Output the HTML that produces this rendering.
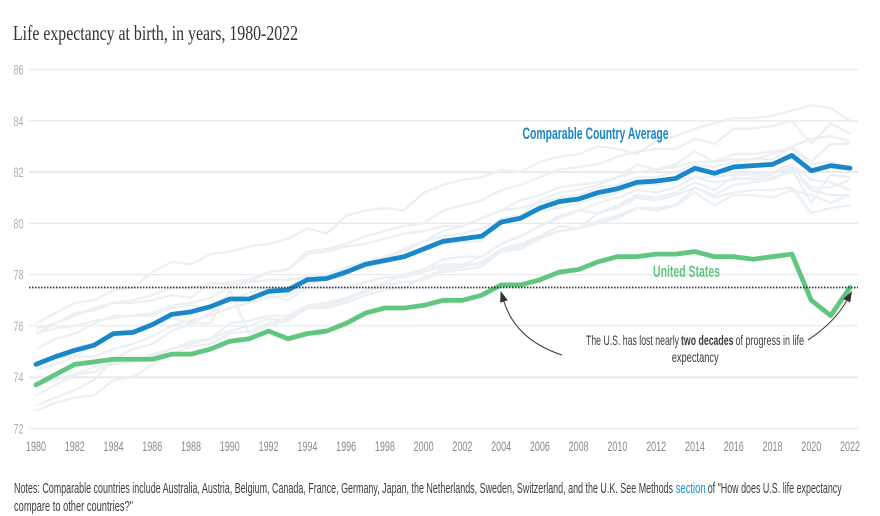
<!DOCTYPE html>
<html lang="en">
<head>
<meta charset="utf-8">
<title>Life expectancy at birth, in years, 1980-2022</title>
<style>
html,body{margin:0;padding:0;background:#fff;width:880px;height:516px;overflow:hidden}
svg{display:block}
text{font-family:"Liberation Sans",sans-serif}
</style>
</head>
<body>
<svg id="chart" xmlns="http://www.w3.org/2000/svg" width="880" height="516" viewBox="0 0 880 516">
  <rect x="0" y="0" width="880" height="516" fill="#ffffff"/>
  <text x="13" y="40" font-size="21" fill="#333333" style="font-family:'Liberation Serif',serif" textLength="285" lengthAdjust="spacingAndGlyphs">Life expectancy at birth, in years, 1980-2022</text>
  <g id="grid"></g>
  <g id="yticks"></g>
  <g id="xticks"></g>
  <g id="countries"></g>
  <g id="main"></g>
  <g id="refline"></g>
  <g id="arrows"></g>
  <text x="522.5" y="139" font-size="16.5" font-weight="bold" fill="#1a87c9" textLength="146" lengthAdjust="spacingAndGlyphs">Comparable Country Average</text>
  <text x="653" y="277" font-size="16.5" font-weight="bold" fill="#62c680" textLength="67" lengthAdjust="spacingAndGlyphs">United States</text>
  <g font-size="14" fill="#3c3c3c">
    <text x="586" y="345" textLength="93" lengthAdjust="spacingAndGlyphs">The U.S. has lost nearly</text>
    <text x="681" y="345" font-weight="bold" textLength="52.5" lengthAdjust="spacingAndGlyphs">two decades</text>
    <text x="735.5" y="345" textLength="68.5" lengthAdjust="spacingAndGlyphs">of progress in life</text>
    <text x="671.7" y="362" textLength="47" lengthAdjust="spacingAndGlyphs">expectancy</text>
  </g>
  <g font-size="14.5" fill="#3c3c3c">
    <text x="14" y="493" textLength="659" lengthAdjust="spacingAndGlyphs">Notes: Comparable countries include Australia, Austria, Belgium, Canada, France, Germany, Japan, the Netherlands, Sweden, Switzerland, and the U.K. See Methods</text>
    <text x="675.7" y="493" fill="#1a93d6" textLength="30" lengthAdjust="spacingAndGlyphs">section</text>
    <text x="707.7" y="493" textLength="134" lengthAdjust="spacingAndGlyphs">of "How does U.S. life expectancy</text>
    <text x="14" y="511" textLength="119" lengthAdjust="spacingAndGlyphs">compare to other countries?"</text>
  </g>
</svg>
<script>
const years = [1980,1981,1982,1983,1984,1985,1986,1987,1988,1989,1990,1991,1992,1993,1994,1995,1996,1997,1998,1999,2000,2001,2002,2003,2004,2005,2006,2007,2008,2009,2010,2011,2012,2013,2014,2015,2016,2017,2018,2019,2020,2021,2022];
const yTickValues = [72,74,76,78,80,82,84,86];
const xTickValues = [1980,1982,1984,1986,1988,1990,1992,1994,1996,1998,2000,2002,2004,2006,2008,2010,2012,2014,2016,2018,2020,2022];
const referenceValue = 77.5;
const averageValues = [74.5,74.8,75.05,75.25,75.7,75.75,76.05,76.45,76.55,76.75,77.05,77.05,77.35,77.4,77.8,77.85,78.1,78.4,78.55,78.7,79.0,79.3,79.4,79.5,80.05,80.2,80.6,80.85,80.95,81.2,81.35,81.6,81.65,81.75,82.15,81.95,82.2,82.25,82.3,82.65,82.05,82.25,82.15];
const usValues = [73.7,74.1,74.5,74.6,74.7,74.7,74.7,74.9,74.9,75.1,75.4,75.5,75.8,75.5,75.7,75.8,76.1,76.5,76.7,76.7,76.8,77.0,77.0,77.2,77.6,77.6,77.8,78.1,78.2,78.5,78.7,78.7,78.8,78.8,78.9,78.7,78.7,78.6,78.7,78.8,77.0,76.4,77.5];
const japanValues = [76.1,76.5,76.9,77.0,77.4,77.5,78.1,78.5,78.4,78.8,78.9,79.1,79.2,79.4,79.8,79.6,80.3,80.5,80.6,80.5,81.2,81.5,81.7,81.8,82.1,82.0,82.4,82.6,82.7,83.0,82.9,82.7,83.2,83.4,83.7,83.9,84.1,84.1,84.2,84.4,84.6,84.5,84.0];
const switzerlandValues = [75.7,76.1,76.4,76.7,76.9,77.0,77.2,77.5,77.5,77.6,77.7,77.8,78.1,78.2,78.9,79.0,79.2,79.5,79.7,79.9,80.0,80.5,80.7,80.9,81.3,81.5,81.8,82.1,82.2,82.3,82.6,82.8,82.9,82.9,83.3,83.1,83.7,83.7,83.8,84.0,83.1,83.9,83.5];
const swedenValues = [75.9,76.1,76.5,76.6,76.9,76.9,77.0,77.2,77.1,77.7,77.6,77.7,78.1,78.2,78.8,78.9,79.1,79.2,79.4,79.6,79.7,79.9,79.9,80.2,80.5,80.6,80.8,81.0,81.1,81.4,81.5,81.8,81.8,82.0,82.3,82.2,82.4,82.5,82.5,83.0,82.4,83.1,83.1];
const australiaValues = [74.6,74.8,74.8,75.3,75.7,75.7,76.0,76.3,76.1,76.5,77.0,77.3,77.5,77.5,78.0,78.0,78.2,78.5,78.7,78.9,79.3,79.7,79.9,80.2,80.5,80.9,81.1,81.4,81.5,81.6,81.8,82.0,82.1,82.2,82.4,82.4,82.5,82.5,82.7,83.0,83.3,83.4,83.2];
const franceValues = [74.3,74.5,74.8,74.8,75.1,75.3,75.6,76.0,76.2,76.4,76.7,76.9,77.1,77.2,77.6,77.8,78.0,78.4,78.6,78.8,79.0,79.2,79.3,79.3,80.2,80.3,80.9,81.2,81.3,81.5,81.8,82.3,82.1,82.3,82.8,82.4,82.7,82.7,82.8,82.9,82.3,82.4,82.2];
const canadaValues = [75.1,75.5,75.7,76.1,76.4,76.4,76.5,76.8,76.9,77.1,77.5,77.7,77.8,77.8,77.9,78.0,78.3,78.5,78.7,79.0,79.3,79.5,79.6,79.8,80.1,80.2,80.5,80.6,80.8,81.0,81.2,81.5,81.5,81.7,81.8,81.8,81.9,81.9,82.0,82.3,81.7,81.6,81.3];
const netherlandsValues = [75.7,75.9,76.0,76.2,76.3,76.4,76.4,76.7,76.8,76.7,77.0,77.1,77.2,77.0,77.5,77.5,77.5,77.7,77.9,77.9,78.1,78.3,78.4,78.7,79.2,79.5,79.9,80.3,80.5,80.8,81.0,81.3,81.2,81.4,81.8,81.6,81.7,81.8,81.9,82.2,81.4,81.4,81.7];
const belgiumValues = [73.3,73.7,74.1,74.2,74.6,74.6,74.9,75.1,75.4,75.5,76.1,76.2,76.4,76.4,76.8,76.9,77.1,77.3,77.6,77.7,77.8,78.1,78.2,78.3,78.9,79.1,79.5,79.9,79.8,80.1,80.3,80.6,80.5,80.7,81.4,81.1,81.5,81.6,81.7,82.1,80.8,81.9,81.8];
const austriaValues = [72.7,73.0,73.2,73.3,73.9,74.0,74.5,74.9,75.2,75.3,75.7,75.8,76.1,76.3,76.7,76.8,77.1,77.4,77.7,78.0,78.2,78.6,78.7,78.7,79.2,79.5,79.9,80.2,80.5,80.4,80.7,81.1,81.0,81.2,81.6,81.3,81.8,81.7,81.8,82.0,81.3,81.1,81.1];
const germanyValues = [72.9,73.2,73.5,73.9,74.7,75.1,75.3,75.8,76.1,76.1,77.4,75.7,76.0,76.2,76.7,76.8,77.0,77.4,77.7,78.0,78.2,78.4,78.4,78.4,78.9,79.0,79.4,79.7,79.8,80.0,80.2,80.6,80.6,80.7,81.2,80.7,81.1,81.1,81.0,81.3,81.1,80.8,81.1];
const ukValues = [73.7,73.9,74.1,74.4,74.5,74.6,74.8,75.1,75.3,75.5,75.8,76.0,76.3,76.2,76.7,76.7,76.9,77.2,77.4,77.5,77.9,78.2,78.3,78.5,79.0,79.2,79.5,79.7,79.8,80.4,80.6,81.0,80.9,81.1,81.4,81.0,81.2,81.3,81.3,81.4,80.4,80.6,80.7];
const countryNames = ['japan','switzerland','sweden','australia','france','canada','netherlands','belgium','austria','germany','uk'];
const countrySeries = [japanValues,switzerlandValues,swedenValues,australiaValues,franceValues,canadaValues,netherlandsValues,belgiumValues,austriaValues,germanyValues,ukValues];

const NS = 'http://www.w3.org/2000/svg';
const xLeft = 36, xRight = 850, yBottom = 428.5, yTop = 69.5;
const plotLeft = 29, plotRight = 858;
function xScale(year){ return xLeft + (year - 1980) * (xRight - xLeft) / (2022 - 1980); }
function yScale(v){ return yBottom - (v - 72) * (yBottom - yTop) / (86 - 72); }
function pathFor(values){
  return values.map(function(v,i){ return (i ? 'L' : 'M') + xScale(years[i]).toFixed(2) + ' ' + yScale(v).toFixed(2); }).join(' ');
}
function make(tag, parentId, attrs, text){
  const el = document.createElementNS(NS, tag);
  for (const k in attrs) el.setAttribute(k, attrs[k]);
  if (text !== undefined) el.textContent = text;
  document.getElementById(parentId).appendChild(el);
  return el;
}

yTickValues.forEach(function(v){
  const line = make('line','grid',{x1:plotLeft,x2:plotRight,y1:yScale(v),y2:yScale(v),stroke:'#e7e9eb','stroke-width':(v===82||v===74)?1.8:1.2});
  
  
  const label = make('text','yticks',{x:13.5,y:yScale(v)+5,'font-size':14,fill:'#b0b0b0',textLength:10,lengthAdjust:'spacingAndGlyphs'},String(v));
  
  
});
xTickValues.forEach(function(year){
  const label = make('text','xticks',{x:xScale(year),y:451,'font-size':14,fill:'#8a8a8a','text-anchor':'middle',textLength:20,lengthAdjust:'spacingAndGlyphs'},String(year));
  
  
});
countrySeries.forEach(function(values,i){
  const line = make('path','countries',{d:pathFor(values),fill:'none',stroke:'#ebf0f4','stroke-width':2.2,'stroke-linejoin':'round'});
  
  
});
const avgLine = make('path','main',{d:pathFor(averageValues),fill:'none',stroke:'#1a87c9','stroke-width':4.8,'stroke-linejoin':'round','stroke-linecap':'round'});


const usLine = make('path','main',{d:pathFor(usValues),fill:'none',stroke:'#62c680','stroke-width':4.8,'stroke-linejoin':'round','stroke-linecap':'round'});


const ref = make('line','refline',{x1:plotLeft,x2:plotRight,y1:yScale(referenceValue),y2:yScale(referenceValue),stroke:'#333333','stroke-width':1.7,'stroke-dasharray':'1.5 1.5'});



function arrow(name, startX, startY, ctrlX, ctrlY, tipX, tipY){
  const dx = tipX - ctrlX, dy = tipY - ctrlY, len = Math.hypot(dx,dy);
  const ux = dx/len, uy = dy/len, size = 11, half = 4;
  const baseX = tipX - ux*size, baseY = tipY - uy*size;
  const curve = make('path','arrows',{d:'M'+startX+' '+startY+' Q'+ctrlX+' '+ctrlY+' '+baseX+' '+baseY,fill:'none',stroke:'#444444','stroke-width':1.1});
  
  
  const pts = [tipX+','+tipY,(baseX-uy*half)+','+(baseY+ux*half),(baseX+uy*half)+','+(baseY-ux*half)].join(' ');
  const head = make('polygon','arrows',{points:pts,fill:'#333333'});
  
  
}
arrow('arrow-to-2004', 562, 355, 516, 340, xScale(2004)-0.5, yScale(referenceValue)+3.5);
arrow('arrow-to-2022', 808, 340, 835, 322, xScale(2022)+2, yScale(referenceValue)+3.5);
</script>
</body>
</html>
